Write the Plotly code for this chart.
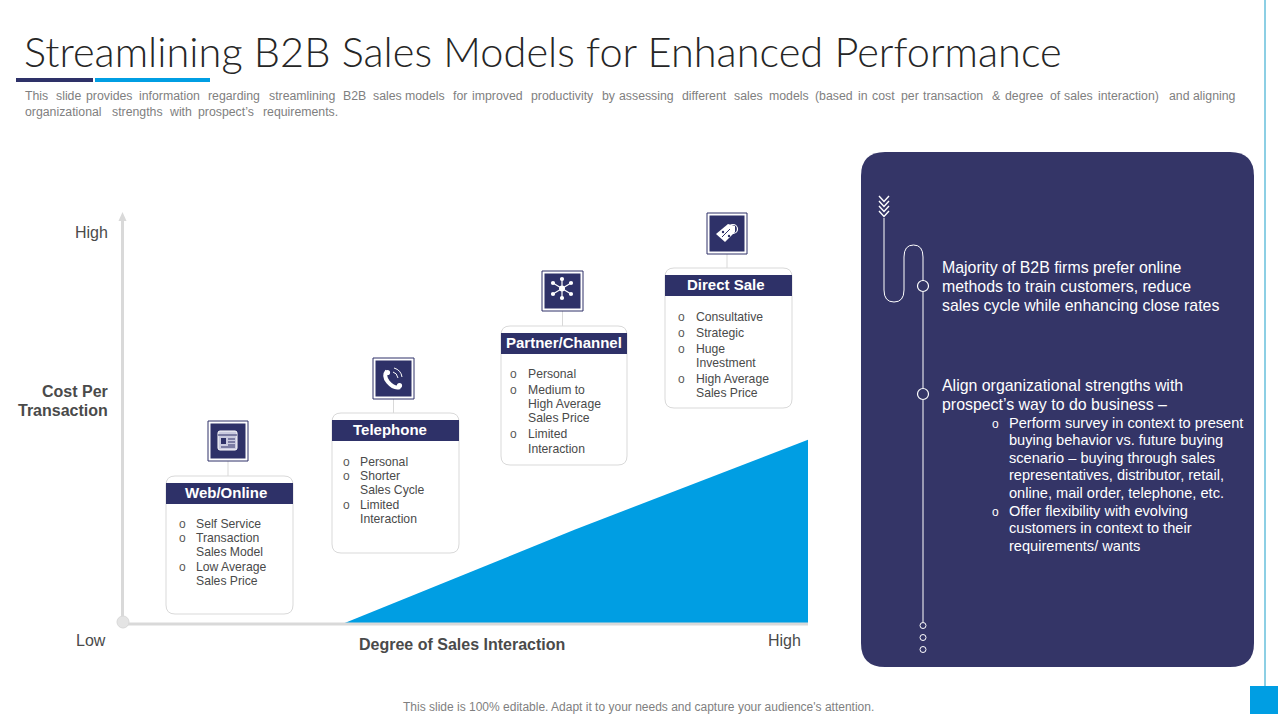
import plotly.graph_objects as go

# Variables
NAVY    = "#2e3168"
PANEL   = "#343567"
BLUE    = "#009ee3"
GRAY    = "#d9d9d9"
TEXT    = "#4a4a4a"
MUTED   = "#7f7f7f"
BODY    = "Liberation Sans"

# Data
TITLE = "Streamlining B2B Sales Models for Enhanced Performance"
# the reference subtitle is justified, so each word gets its own start
SUBTITLE_1 = ["This", "slide", "provides", "information", "regarding", "streamlining", "B2B", "sales", "models",
              "for", "improved", "productivity", "by", "assessing", "different", "sales", "models", "(based",
              "in", "cost", "per", "transaction", "&", "degree", "of", "sales", "interaction)", "and", "aligning"]
SUBTITLE_1X = [25, 56, 86, 139, 208, 269, 343, 373, 405,
               453, 472, 531, 602, 619, 682, 734, 769, 815,
               858, 872, 901, 923, 992, 1005, 1050, 1064, 1098, 1169, 1193]
SUBTITLE_2 = ["organizational", "strengths", "with", "prospect’s", "requirements."]
SUBTITLE_2X = [25, 112, 169, 198, 263]
FOOTER = "This slide is 100% editable. Adapt it to your needs and capture your audience's attention."

INTERACTION = [32, 66, 100]
COST        = [0, 23, 44.8]

CARD_NAMES = ["Web/Online", "Telephone", "Partner/Channel", "Direct Sale"]
CARD_LINES = [
    [["Self Service"], ["Transaction", "Sales Model"], ["Low Average", "Sales Price"]],
    [["Personal"], ["Shorter", "Sales Cycle"], ["Limited", "Interaction"]],
    [["Personal"], ["Medium to", "High Average", "Sales Price"], ["Limited", "Interaction"]],
    [["Consultative"], ["Strategic"], ["Huge", "Investment"], ["High Average", "Sales Price"]],
]
# box left/right/top/bottom, band top/bottom, title centre, bullet x, text x, line y's
CARD_BOX    = [(166, 293, 476, 614), (332, 459, 413, 553), (501, 627, 326, 465), (665, 792, 268, 408)]
CARD_BAND   = [(483, 504), (420, 441), (333, 354), (275, 296)]
CARD_TITLEX = [226, 390, 564, 726]
CARD_BULLET = [182, 346, 513, 681]
CARD_TEXTX  = [195, 359, 527, 695]
CARD_LINEY  = [
    [524, 538, 552, 567, 581],
    [462, 476, 490, 505, 519],
    [374, 390, 404, 418, 434, 449],
    [317, 333, 349, 363, 379, 393],
]
ICON_BOX = [(208, 248, 421, 461), (373, 414, 358, 399), (542, 583, 271, 311), (707, 747, 213, 254)]

PANEL_HEAD = [
    (["Majority of B2B firms prefer online", "methods to train customers, reduce", "sales cycle while enhancing close rates"], [267, 286, 305]),
    (["Align organizational strengths with", "prospect’s way to do business –"], [385, 404]),
]
PANEL_BULLETS = [
    (["Perform survey in context to present", "buying behavior vs. future buying", "scenario – buying through sales",
      "representatives, distributor, retail,", "online, mail order, telephone, etc."], [422.5, 439.5, 457.5, 474.5, 492.5]),
    (["Offer flexibility with evolving", "customers in context to their", "requirements/ wants"], [510.5, 527.5, 545.5]),
]


# Helper Functions
def round_rect(x0, x1, y0, y1, r):
    return (f"M{x0+r},{y0} L{x1-r},{y0} Q{x1},{y0} {x1},{y0+r} L{x1},{y1-r} Q{x1},{y1} {x1-r},{y1} "
            f"L{x0+r},{y1} Q{x0},{y1} {x0},{y1-r} L{x0},{y0+r} Q{x0},{y0} {x0+r},{y0} Z")


def label(text, x, y, size=12, color=TEXT, anchor="left", weight=400, family=BODY):
    fig.add_annotation(
        x=x, y=y, xref="x", yref="y", text=text, showarrow=False, xanchor=anchor, yanchor="middle",
        align=anchor, borderpad=0, font=dict(size=size, color=color, family=family, weight=weight),
    )


def rect(x0, x1, y0, y1, fill, line=None, width=1):
    fig.add_shape(type="rect", x0=x0, x1=x1, y0=y0, y1=y1, fillcolor=fill,
                  line=dict(color=line, width=width) if line else dict(width=0))


def line(x0, y0, x1, y1, color, width=1):
    fig.add_shape(type="line", x0=x0, y0=y0, x1=x1, y1=y1, line=dict(color=color, width=width))


def dot(cx, cy, r, fill, color=None, width=1):
    fig.add_shape(type="circle", x0=cx-r, x1=cx+r, y0=cy-r, y1=cy+r, fillcolor=fill,
                  line=dict(color=color, width=width) if color else dict(width=0))


def path(d, fill=None, color=None, width=1):
    fig.add_shape(type="path", path=d, fillcolor=fill if fill else "rgba(0,0,0,0)",
                  line=dict(color=color, width=width) if color else dict(width=0))


fig = go.Figure()

# Sales interaction wedge, drawn on its own axes
fig.add_trace(go.Scatter(
    x=INTERACTION, y=COST, mode="lines", fill="tozeroy", fillcolor=BLUE,
    line=dict(color=BLUE, width=0), xaxis="x2", yaxis="y2", hoverinfo="skip", showlegend=False,
))

# Header
label(TITLE, 23, 51, size=41.5, color="#262626", family="Lato", weight=300)
rect(16, 93, 78, 82, NAVY)
rect(95, 210, 78, 82, BLUE)
for word, x in zip(SUBTITLE_1, SUBTITLE_1X):
    label(word, x - 1, 96, size=12.3, color=MUTED)
for word, x in zip(SUBTITLE_2, SUBTITLE_2X):
    label(word, x - 1, 112, size=12.3, color=MUTED)
label(FOOTER, 638.5, 706.5, size=12, color=MUTED, anchor="center")

# Right edge marker
line(1265, 0, 1265, 686, "#1a9fc9", 1)
rect(1250, 1278, 686, 714, BLUE)

# Axes
line(123, 624, 808, 624, GRAY, 3)
line(122.5, 218, 122.5, 624, GRAY, 3)
path("M118.5,221 L122.5,212 L126.5,221 Z", fill=GRAY)
dot(123, 622, 6, "#e4e4e4", GRAY, 1)
label("High", 109, 232, size=16, anchor="right")
label("Cost Per", 109, 391, size=16, anchor="right", weight=700)
label("Transaction", 109, 410, size=16, anchor="right", weight=700)
label("Low", 107, 640, size=16, anchor="right")
label("Degree of Sales Interaction", 462, 644, size=16, anchor="center", weight=700)
label("High", 784, 640, size=16, anchor="center")

# Cards
for i, name in enumerate(CARD_NAMES):
    x0, x1, y0, y1 = CARD_BOX[i]
    path(round_rect(x0, x1, y0, y1, 9), fill="white", color=GRAY, width=1)
    rect(x0, x1, CARD_BAND[i][0], CARD_BAND[i][1], NAVY)
    label(name, CARD_TITLEX[i], sum(CARD_BAND[i]) / 2 - 1, size=15, color="white", anchor="center", weight=700)

    ix0, ix1, iy0, iy1 = ICON_BOX[i]
    line((ix0 + ix1) / 2, iy1, (ix0 + ix1) / 2, y0, GRAY, 1)
    rect(ix0, ix1, iy0, iy1, "white", NAVY, 1)
    rect(ix0 + 2.5, ix1 - 2.5, iy0 + 2.5, iy1 - 2.5, NAVY)

    n = 0
    for bullet in CARD_LINES[i]:
        label("o", CARD_BULLET[i], CARD_LINEY[i][n], size=12, color="#595959", anchor="center")
        for text in bullet:
            label(text, CARD_TEXTX[i], CARD_LINEY[i][n], size=12.2)
            n += 1

# Icons
path(round_rect(218, 237, 431, 450, 2), fill="#c9cadf", color="white", width=1)
line(218, 435, 237, 435, NAVY, 1)
rect(221, 226, 438, 444, NAVY)
for yy in (439, 442, 445):
    line(228, yy, 235, yy, NAVY, 1)
line(221, 447, 235, 447, NAVY, 1)

path("M387,371 Q383,376 388,382 Q394,389 400,387", color="white", width=4)
dot(387.5, 372.5, 2.6, "white")
dot(399.5, 385.5, 2.6, "white")
path("M393,372 Q397,373 398,378", color="white", width=1)
path("M394,368 Q401,370 402,377", color="white", width=1)

for px, py in [(562, 279), (562, 298), (553, 283), (571, 283), (553, 294), (571, 294)]:
    line(562, 288.5, px, py, "white", 1.2)
    dot(px, py, 2.1, "white")
dot(562, 288.5, 3, "white")

dot(733, 229, 4.5, None, "white", 1.2)
path("M716,234 L728,224 L735,226 L735,232 L725,242 Z", fill="white")
line(722, 237, 730, 229, NAVY, 1)
dot(723, 232, 1.2, NAVY)
dot(729, 236, 1.2, NAVY)

# Right panel
path(round_rect(861, 1254, 152, 667, 24), fill=PANEL)
for cy in (196, 201, 206, 211):
    path(f"M879,{cy} L884,{cy+5.5} L889,{cy}", color="white", width=1.4)
path("M884,218 L884,290 Q884,302 894,302 Q904,302 904,290 L904,257 Q904,245 913.5,245 Q923,245 923,257 L923,281",
     color="white", width=1)
line(923, 292, 923, 388, "white", 1)
line(923, 400, 923, 622, "white", 1)
dot(923, 286, 5.5, None, "white", 1.2)
dot(923, 394, 5.5, None, "white", 1.2)
for cy in (625.5, 637.5, 649.5):
    dot(923, cy, 3, None, "white", 1)

for texts, ys in PANEL_HEAD:
    for text, y in zip(texts, ys):
        label(text, 941, y, size=15.9, color="white")
for texts, ys in PANEL_BULLETS:
    label("o", 995, ys[0] + 1, size=12, color="white", anchor="center")
    for text, y in zip(texts, ys):
        label(text, 1008, y, size=14.6, color="white")

# Overall Styling
fig.update_layout(
    width=1280, height=720, margin=dict(l=0, r=0, t=0, b=0),
    paper_bgcolor="white", plot_bgcolor="white", showlegend=False,
    xaxis=dict(domain=[0, 1], range=[0, 1280], visible=False, fixedrange=True),
    yaxis=dict(domain=[0, 1], range=[720, 0], visible=False, fixedrange=True),
    xaxis2=dict(domain=[123 / 1280, 808 / 1280], range=[0, 100], visible=False, anchor="y2"),
    yaxis2=dict(domain=[(720 - 624) / 720, (720 - 213) / 720], range=[0, 100], visible=False, anchor="x2"),
)

# Export
fig.write_html("out.html", config=dict(displayModeBar=False), post_script="document.body.style.margin='0';")
